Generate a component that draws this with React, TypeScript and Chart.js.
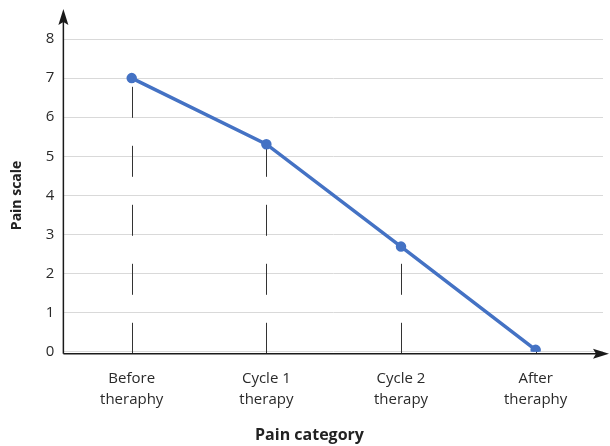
import React, { useEffect, useRef } from "react";
import { Chart, registerables } from "chart.js";

Chart.register(...registerables);

const categories: string[][] = [
  ["Before", "theraphy"],
  ["Cycle 1", "therapy"],
  ["Cycle 2", "therapy"],
  ["After", "theraphy"],
];
const painValues: number[] = [7.0, 5.31, 2.69, 0.05];
const yTicks: number[] = [0, 1, 2, 3, 4, 5, 6, 7, 8];

const FONT = "'Open Sans', 'Noto Sans', sans-serif";

const dropLines = {
  id: "dropLines",
  beforeDatasetsDraw(chart: any) {
    const ctx = chart.ctx;
    const meta = chart.getDatasetMeta(0);
    const y0 = chart.scales.y.getPixelForValue(0) + 2;
    ctx.save();
    ctx.strokeStyle = "#333333";
    ctx.lineWidth = 1;
    ctx.setLineDash([31, 28]);
    meta.data.forEach((pt: any) => {
      ctx.beginPath();
      ctx.moveTo(Math.round(pt.x) + 0.5, y0);
      ctx.lineTo(Math.round(pt.x) + 0.5, pt.y);
      ctx.stroke();
    });
    ctx.restore();
  },
};

const arrowAxes = {
  id: "arrowAxes",
  afterDatasetsDraw(chart: any) {
    const ctx = chart.ctx;
    const area = chart.chartArea;
    const y0 = chart.scales.y.getPixelForValue(0) + 2;
    const x0 = area.left - 1;
    ctx.save();
    ctx.strokeStyle = "#1a1a1a";
    ctx.fillStyle = "#1a1a1a";
    ctx.lineWidth = 1.5;
    ctx.beginPath();
    ctx.moveTo(x0, y0);
    ctx.lineTo(x0, 20);
    ctx.stroke();
    ctx.beginPath();
    ctx.moveTo(x0, 9);
    ctx.lineTo(x0 - 5, 25);
    ctx.lineTo(x0, 22);
    ctx.lineTo(x0 + 5, 25);
    ctx.closePath();
    ctx.fill();
    ctx.beginPath();
    ctx.moveTo(x0, y0);
    ctx.lineTo(598, y0);
    ctx.stroke();
    ctx.beginPath();
    ctx.moveTo(609, y0);
    ctx.lineTo(593, y0 - 5);
    ctx.lineTo(596, y0);
    ctx.lineTo(593, y0 + 5);
    ctx.closePath();
    ctx.fill();
    ctx.restore();
  },
};

export default function App() {
  const ref = useRef<HTMLCanvasElement>(null);
  useEffect(() => {
    if (!ref.current) return;
    const chart = new Chart(ref.current, {
      type: "line",
      data: {
        labels: categories,
        datasets: [
          {
            data: painValues,
            borderColor: "#4472c4",
            backgroundColor: "#4472c4",
            borderWidth: 3.5,
            pointRadius: 3.5,
            pointHoverRadius: 3.5,
            tension: 0,
          },
        ],
      },
      options: {
        animation: false,
        responsive: false,
        maintainAspectRatio: false,
        layout: { padding: { top: 39, right: 0, left: 9, bottom: 0 } },
        plugins: {
          legend: { display: false },
          tooltip: { enabled: false },
          title: {
            display: true,
            position: "bottom",
            text: "Pain category",
            color: "#222222",
            font: { family: FONT, size: 16, weight: "bold", lineHeight: 1.2 },
            padding: { top: 0, bottom: 1 },
          },
        },
        scales: {
          x: {
            type: "category",
            offset: true,
            grid: { display: false, drawTicks: false },
            border: { display: false },
            ticks: {
              color: "#2a2a2a",
              font: { family: FONT, size: 15, lineHeight: 1.4 },
              padding: 16,
              maxRotation: 0,
            },
          },
          y: {
            min: 0,
            max: 8,
            afterBuildTicks: (s: any) => {
              s.ticks = yTicks.map((v) => ({ value: v }));
            },
            grid: { color: "#d9d9d9", drawTicks: false, lineWidth: 1 },
            border: { display: false },
            ticks: {
              color: "#2a2a2a",
              font: { family: FONT, size: 15 },
              padding: 10,
            },
            title: {
              display: true,
              text: "Pain scale",
              color: "#222222",
              font: { family: FONT, size: 14, weight: "bold" },
              padding: { top: 0, bottom: 10 },
            },
          },
        },
      },
      plugins: [dropLines, arrowAxes],
    });
    return () => chart.destroy();
  }, []);
  return (
    <div style={{ position: "absolute", left: 0, top: 0, width: 610, height: 446 }}>
      <canvas ref={ref} width={610} height={446} style={{ width: 610, height: 446 }} />
    </div>
  );
}
